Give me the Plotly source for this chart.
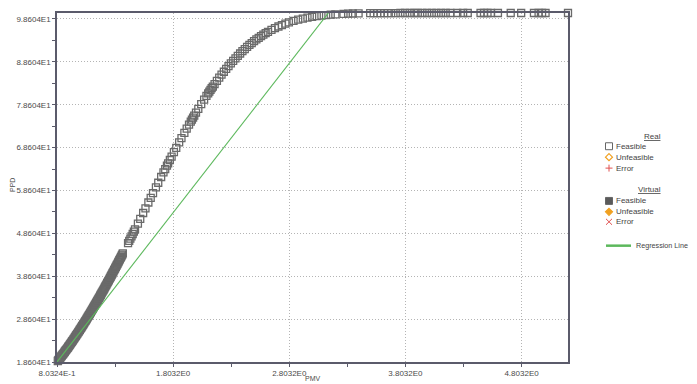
import plotly.graph_objects as go

# ---- data ----
pmv = [0.80324, 0.81, 0.82, 0.83, 0.84, 0.85, 0.86, 0.87, 0.88, 0.89,
       0.90, 0.91, 0.92, 0.93, 0.94, 0.95, 0.96, 0.97, 0.98, 0.99,
       1.00, 1.01, 1.02, 1.03, 1.04, 1.05, 1.06, 1.07, 1.08, 1.09,
       1.10, 1.11, 1.12, 1.13, 1.14, 1.15, 1.16, 1.17, 1.18, 1.19,
       1.20, 1.21, 1.22, 1.23, 1.24, 1.25, 1.26, 1.27, 1.28, 1.29,
       1.30, 1.31, 1.32, 1.33, 1.34, 1.35, 1.36, 1.37,
       1.415, 1.425, 1.435, 1.445, 1.455, 1.465, 1.475,
       1.50, 1.52, 1.545, 1.565, 1.59, 1.61, 1.63, 1.655, 1.675, 1.70,
       1.72, 1.735, 1.75, 1.76, 1.775, 1.79, 1.81, 1.83, 1.855, 1.875,
       1.90, 1.92, 1.94, 1.955, 1.965, 1.975, 1.985, 2.00, 2.02, 2.045,
       2.07, 2.09, 2.105, 2.115, 2.125, 2.135, 2.145, 2.16, 2.18, 2.20,
       2.22, 2.24, 2.26, 2.28, 2.30, 2.32, 2.34, 2.36, 2.38, 2.40,
       2.42, 2.44, 2.46, 2.48, 2.50, 2.52, 2.54, 2.56, 2.58, 2.60,
       2.62, 2.65, 2.68, 2.71, 2.74, 2.77, 2.80, 2.84, 2.88, 2.92,
       2.96, 3.00, 3.04, 3.08, 3.12, 3.16, 3.20,
       3.27, 3.31, 3.35, 3.40, 3.50, 3.53, 3.56, 3.59, 3.62, 3.65,
       3.68, 3.72, 3.76, 3.80, 3.84, 3.88, 3.91, 3.95, 3.99, 4.03,
       4.07, 4.11, 4.15, 4.19, 4.25, 4.30, 4.34, 4.45, 4.48, 4.51,
       4.54, 4.60, 4.71, 4.80, 4.91, 4.95, 4.98, 5.01, 5.2032]

ppd = [18.60, 18.84, 19.19, 19.55, 19.90, 20.25, 20.62, 20.99, 21.36, 21.73,
       22.10, 22.49, 22.88, 23.28, 23.67, 24.06, 24.47, 24.88, 25.30, 25.71,
       26.12, 26.55, 26.98, 27.41, 27.84, 28.27, 28.72, 29.17, 29.61, 30.06,
       30.51, 30.98, 31.44, 31.91, 32.37, 32.84, 33.32, 33.80, 34.29, 34.77,
       35.25, 35.74, 36.24, 36.73, 37.23, 37.72, 38.23, 38.74, 39.25, 39.76,
       40.27, 40.79, 41.31, 41.83, 42.35, 42.87, 43.40, 43.93,
       46.31, 46.85, 47.39, 47.92, 48.46, 49.00, 49.55,
       50.90, 51.99, 53.35, 54.44, 55.80, 56.89, 57.97, 59.33, 60.41, 61.75,
       62.81, 63.61, 64.41, 64.93, 65.72, 66.50, 67.53, 68.55, 69.82, 70.81,
       72.05, 73.01, 73.97, 74.68, 75.14, 75.61, 76.07, 76.76, 77.64, 78.75,
       79.81, 80.65, 81.27, 81.66, 82.06, 82.46, 82.85, 83.42, 84.17, 84.91,
       85.61, 86.30, 86.97, 87.62, 88.26, 88.85, 89.44, 90.01, 90.56, 91.10,
       91.59, 92.08, 92.55, 92.99, 93.43, 93.83, 94.22, 94.59, 94.94, 95.29,
       95.60, 96.06, 96.46, 96.85, 97.19, 97.51, 97.81, 98.15, 98.44, 98.70,
       98.92, 99.12, 99.27, 99.40, 99.52, 99.61, 99.70,
       99.80, 99.84, 99.88, 99.91, 99.96, 99.97, 99.97, 99.98, 99.98, 99.99,
       99.99, 99.99, 100.0, 100.0, 100.0, 100.0, 100.0, 100.0, 100.0, 100.0,
       100.0, 100.0, 100.0, 100.0, 100.0, 100.0, 100.0, 100.0, 100.0, 100.0,
       100.0, 100.0, 100.0, 100.0, 100.0, 100.0, 100.0, 100.0, 100.0]

# extra points in the dense lower band
pmv_dense = [0.815, 0.825, 0.835, 0.845, 0.855, 0.865, 0.875, 0.885, 0.895,
             0.905, 0.915, 0.925, 0.935, 0.945, 0.955, 0.965, 0.975, 0.985, 0.995,
             1.005, 1.015, 1.025, 1.035, 1.045, 1.055, 1.065, 1.075, 1.085, 1.095,
             1.105, 1.115, 1.125, 1.135, 1.145, 1.155, 1.165, 1.175, 1.185, 1.195,
             1.205, 1.215, 1.225, 1.235, 1.245, 1.255, 1.265, 1.275, 1.285, 1.295,
             1.305, 1.315, 1.325, 1.335, 1.345, 1.355, 1.365]
ppd_dense = [19.02, 19.37, 19.73, 20.08, 20.44, 20.81, 21.18, 21.55, 21.92,
             22.30, 22.69, 23.08, 23.48, 23.87, 24.27, 24.68, 25.09, 25.51, 25.92,
             26.34, 26.77, 27.20, 27.63, 28.06, 28.50, 28.95, 29.39, 29.84, 30.29,
             30.75, 31.21, 31.68, 32.14, 32.61, 33.08, 33.56, 34.05, 34.53, 35.01,
             35.50, 35.99, 36.49, 36.98, 37.48, 37.98, 38.49, 39.00, 39.51, 40.02,
             40.53, 41.05, 41.57, 42.09, 42.61, 43.14, 43.67]

reg_pmv = [0.80324, 3.20]
reg_ppd = [18.60, 102.1]

x_tickvals = [0.80324, 1.80324, 2.80324, 3.80324, 4.80324]
x_ticktext = ["8.0324E-1", "1.8032E0", "2.8032E0", "3.8032E0", "4.8032E0"]
y_tickvals = [18.604, 28.604, 38.604, 48.604, 58.604, 68.604, 78.604, 88.604, 98.604]
y_ticktext = ["1.8604E1", "2.8604E1", "3.8604E1", "4.8604E1", "5.8604E1",
              "6.8604E1", "7.8604E1", "8.8604E1", "9.8604E1"]

legend_groups = ["Real", "Virtual"]
legend_items = ["Feasible", "Unfeasible", "Error"]
regression_label = "Regression Line"

# ---- layout geometry (screen pixels; the page body adds an 8px offset) ----
OFF = 8
W, H = 697 - OFF, 384 - OFF
L, R, T, B = 57, 568, 11, 362          # plot area on screen
FONT = "Liberation Sans, Arial, sans-serif"
AXIS = "#5b5b6b"
TXT = "#4a4a4a"


def px(x):
    return (x - L) / (R - L)


def py(y):
    return (B - y) / (B - T)


fig = go.Figure()
fig.add_trace(go.Scatter(
    x=pmv + pmv_dense, y=ppd + ppd_dense, mode="markers", cliponaxis=False,
    marker=dict(symbol="square-open", size=7, color="#6a6a6a",
                line=dict(width=1.3, color="#6a6a6a")),
    showlegend=False))
fig.add_trace(go.Scatter(
    x=reg_pmv, y=reg_ppd, mode="lines",
    line=dict(color="#5cb85c", width=1.1), showlegend=False))

axis_common = dict(
    showline=True, mirror=True, linecolor=AXIS, linewidth=1.5,
    ticks="outside", ticklen=3, tickcolor=AXIS, tickwidth=1,
    showgrid=True, gridcolor="#b4b4b4", griddash="1px,2px", gridwidth=1,
    zeroline=False, tickfont=dict(family=FONT, size=8, color=TXT),
)

fig.update_xaxes(range=[0.80324, 5.2032], tickmode="array",
                 tickvals=x_tickvals, ticktext=x_ticktext,
                 minor=dict(tick0=0.30324, dtick=0.5, ticks="outside",
                            ticklen=3, tickcolor=AXIS, showgrid=False),
                 **axis_common)
fig.update_yaxes(range=[18.604, 100.0], tickmode="array",
                 tickvals=y_tickvals, ticktext=y_ticktext,
                 minor=dict(tick0=13.604, dtick=5, ticks="outside",
                            ticklen=3, tickcolor=AXIS, showgrid=False),
                 **axis_common)

annotations = [
    dict(text="PMV", x=0.5, y=py(379), xref="paper", yref="paper",
         showarrow=False, xanchor="center", yanchor="middle",
         font=dict(family=FONT, size=7, color=TXT)),
    dict(text="PPD", x=px(12), y=py(184), xref="paper", yref="paper",
         showarrow=False, xanchor="center", yanchor="middle", textangle=-90,
         font=dict(family=FONT, size=7, color=TXT)),
]
shapes = []

LFONT = dict(family=FONT, size=8, color="#444444")
sym_x = 609
text_x = 614
header_y = [135, 189]
row_y = [[145, 156, 167], [200, 211, 221]]
s = 3.5

for g, name in enumerate(legend_groups):
    annotations.append(dict(text="<u>" + name + "</u>", x=px(663), y=py(header_y[g]),
                            xref="paper", yref="paper", showarrow=False,
                            xanchor="right", yanchor="middle", font=LFONT))
    for i, item in enumerate(legend_items):
        yy = row_y[g][i]
        annotations.append(dict(text=item, x=px(text_x), y=py(yy),
                                xref="paper", yref="paper", showarrow=False,
                                xanchor="left", yanchor="middle", font=LFONT))
        if i == 0:
            shapes.append(dict(type="rect", xref="paper", yref="paper",
                               x0=px(sym_x - s), x1=px(sym_x + s),
                               y0=py(yy + s), y1=py(yy - s),
                               line=dict(color="#666666", width=1),
                               fillcolor="white" if g == 0 else "#5a5a5a"))
        elif i == 1:
            path = (f"M {px(sym_x)},{py(yy - s)} L {px(sym_x + s)},{py(yy)} "
                    f"L {px(sym_x)},{py(yy + s)} L {px(sym_x - s)},{py(yy)} Z")
            shapes.append(dict(type="path", xref="paper", yref="paper", path=path,
                               line=dict(color="#f0a020", width=1.2),
                               fillcolor="white" if g == 0 else "#f0a020"))
        else:
            if g == 0:
                segs = [(sym_x - s, yy, sym_x + s, yy), (sym_x, yy - s, sym_x, yy + s)]
            else:
                segs = [(sym_x - 3, yy - 3, sym_x + 3, yy + 3),
                        (sym_x - 3, yy + 3, sym_x + 3, yy - 3)]
            for (a, b, c, d) in segs:
                shapes.append(dict(type="line", xref="paper", yref="paper",
                                   x0=px(a), y0=py(b), x1=px(c), y1=py(d),
                                   line=dict(color="#e05050", width=1)))

shapes.append(dict(type="line", xref="paper", yref="paper",
                   x0=px(606), x1=px(631), y0=py(245), y1=py(245),
                   line=dict(color="#5cb85c", width=2.5)))
annotations.append(dict(text=regression_label, x=px(634), y=py(245),
                        xref="paper", yref="paper", showarrow=False,
                        xanchor="left", yanchor="middle",
                        font=dict(family=FONT, size=7.2, color="#444444")))

fig.update_layout(
    width=W, height=H,
    margin=dict(l=L - OFF, r=W - (R - OFF), t=T - OFF, b=H - (B - OFF), pad=0),
    paper_bgcolor="white", plot_bgcolor="white",
    showlegend=False,
    annotations=annotations, shapes=shapes,
    font=dict(family=FONT, size=8, color=TXT),
)

fig.write_html("out.html")
